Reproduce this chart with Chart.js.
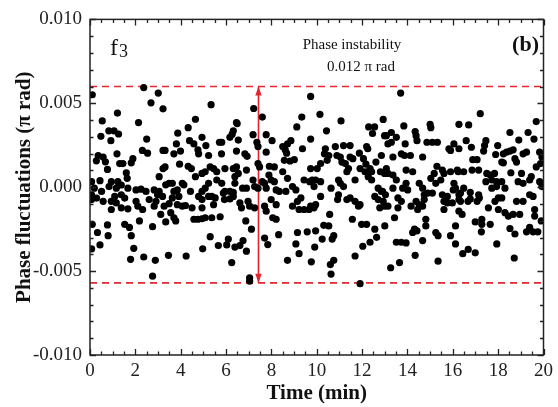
<!DOCTYPE html>
<html>
<head>
<meta charset="utf-8">
<script src="https://cdn.jsdelivr.net/npm/chart.js@4"></script>
<style>
  html, body { margin: 0; padding: 0; background: #fff; }
  #wrap { width: 558px; height: 407px; }
</style>
</head>
<body>
<div id="wrap"><canvas id="phase" width="558" height="407"></canvas></div>
<script>
// time (min) and phase fluctuation (units of 1e-3 pi rad)
var timeMin = [
  // 0 - 3.3 min
  2.37, 0.10, 3.01, 2.69, 3.22, 1.21, 0.54, 2.14, 0.83, 1.06,
  0.48, 1.26, 0.92, 2.50, 2.31, 2.54, 3.22, 0.36, 0.58, 0.28,
  0.68, 1.19, 1.31, 1.45, 1.89, 1.82, 0.77, 3.22, 1.60, 1.64,
  3.05, 0.07, 0.44, 0.94, 1.23, 1.38, 0.19, 0.51, 0.84, 1.16,
  1.67, 2.03, 2.25, 2.47, 2.83, 3.05, 0.07, 0.29, 0.58, 0.07,
  1.09, 1.38, 1.53, 0.94, 1.16, 2.03, 2.11, 2.32, 2.61, 2.91,
  2.98, 0.94, 1.38, 1.67, 2.83, 3.12, 2.18, 0.10, 0.77, 1.53,
  1.74, 2.76, 0.33, 0.80, 1.82, 0.44, 0.07, 1.93, 1.79, 2.37,
  2.88, 2.76, 4.65,
  // 3.3 - 6.5 min
  5.34, 4.33, 3.87, 6.46, 6.27, 6.17, 4.39, 4.58, 3.81, 4.94,
  5.11, 5.71, 5.81, 4.76, 4.79, 3.31, 3.70, 3.99, 5.23, 5.80,
  6.46, 3.31, 3.95, 4.33, 4.47, 4.94, 5.08, 5.30, 5.45, 5.59,
  5.95, 6.32, 4.65, 3.49, 3.63, 4.07, 4.14, 5.23, 5.59, 5.81,
  6.39, 3.34, 4.94, 5.08, 3.70, 3.85, 4.43, 5.95, 5.88, 6.17,
  6.32, 3.20, 3.63, 3.92, 4.79, 4.94, 5.23, 5.37, 5.52, 5.93,
  6.17, 3.49, 3.85, 4.07, 4.21, 4.50, 3.27, 4.94, 5.45, 3.56,
  3.70, 3.78, 3.34, 4.58, 4.76, 4.94, 5.08, 5.37, 5.74, 5.30,
  6.10, 6.03, 5.66, 6.39, 4.97, 3.46, 4.24, 6.25,
  // 6.3 - 9.8 min
  7.22, 7.60, 6.49, 6.32, 7.19, 7.77, 6.54, 7.36, 7.41, 8.03,
  6.83, 6.93, 7.77, 7.41, 7.48, 7.91, 8.13, 6.46, 6.54, 6.39,
  6.90, 7.89, 7.99, 8.13, 7.19, 7.60, 7.70, 6.73, 6.90, 7.26,
  7.41, 7.77, 8.21, 8.35, 6.32, 6.61, 6.68, 6.97, 7.04, 7.26,
  7.70, 7.77, 7.99, 8.21, 8.06, 8.21, 6.87, 7.12, 8.32, 6.75,
  7.70, 7.84, 6.61, 6.90, 7.04, 7.04, 9.73, 9.34, 9.12, 8.86,
  8.71, 8.50, 8.61, 8.67, 8.57, 8.82, 9.01, 9.37, 9.73, 8.50,
  8.71, 9.44, 9.69, 8.93, 9.08, 8.64, 9.30, 9.15, 8.93, 9.22,
  9.44, 9.66, 9.15, 9.08, 9.22, 9.58, 8.71,
  // 9.7 - 13 min
  10.14, 11.07, 10.43, 12.29, 12.55, 12.46, 12.99, 10.82, 11.18, 11.47,
  10.38, 10.34, 10.53, 10.46, 10.89, 11.04, 11.47, 11.59, 11.88, 12.20,
  12.25, 11.11, 11.26, 11.33, 11.40, 10.17, 10.02, 9.73, 12.06, 12.17,
  12.35, 12.42, 11.91, 12.13, 12.61, 12.81, 12.99, 9.80, 9.95, 10.17,
  10.96, 11.04, 11.18, 11.69, 12.27, 12.42, 10.63, 9.88, 12.71, 12.90,
  10.17, 10.96, 10.92, 11.33, 11.47, 11.69, 11.84, 11.91, 12.56, 12.71,
  12.78, 12.99, 9.73, 9.88, 9.95, 10.57, 11.57, 10.31, 10.53, 11.98,
  12.20, 12.56, 9.95, 10.75, 10.68, 10.24, 12.64, 12.35, 12.03, 9.91,
  11.69, 10.75, 10.60, 9.76, 10.63, 11.91,
  // 12.8 - 16.3 min
  13.70, 12.93, 13.84, 15.00, 15.03, 16.27, 13.07, 13.29, 13.51, 14.34,
  14.38, 14.42, 13.14, 13.29, 13.90, 14.86, 15.10, 15.32, 16.05, 15.83,
  15.90, 16.27, 13.73, 13.87, 14.13, 14.67, 12.85, 13.36, 15.30, 15.18,
  15.54, 15.61, 15.90, 16.20, 13.07, 13.14, 13.36, 13.51, 13.94, 14.23,
  13.94, 13.79, 14.01, 15.03, 15.25, 15.47, 14.52, 14.67, 16.05, 16.02,
  13.36, 12.85, 13.03, 14.74, 14.89, 15.10, 15.54, 15.76, 16.27, 13.58,
  13.73, 14.38, 14.52, 14.67, 14.74, 14.16, 14.45, 12.93, 13.14, 13.58,
  15.61, 15.76, 15.98, 16.27, 15.61, 13.43, 14.81, 14.81, 13.00, 14.31,
  14.23, 14.42, 15.25, 15.35, 15.90, 13.51, 13.73, 13.94, 14.67, 16.12,
  14.34, 13.65, 13.26, 15.35,
  // 16.1 - 20 min
  17.21, 16.70, 19.68, 18.52, 19.32, 16.59, 16.82, 17.46, 17.40, 17.36,
  17.98, 17.89, 18.23, 18.37, 18.52, 18.66, 18.91, 19.58, 19.10, 19.25,
  19.83, 19.93, 16.88, 17.07, 18.16, 18.23, 18.74, 18.81, 19.68, 19.87,
  16.24, 16.48, 16.85, 17.14, 17.50, 17.65, 17.84, 18.56, 19.03, 19.39,
  19.46, 17.46, 17.72, 17.93, 18.16, 18.88, 19.10, 19.83, 19.93, 16.12,
  16.48, 17.72, 17.93, 18.30, 16.34, 16.77, 17.14, 17.17, 17.07, 16.34,
  17.86, 18.01, 18.16, 17.57, 18.81, 19.10, 19.39, 19.54, 16.67, 16.77,
  16.27, 16.41, 18.01, 18.30, 18.45, 18.66, 18.95, 19.61, 19.61, 19.90,
  16.12, 16.99, 17.28, 17.28, 17.65, 17.26, 18.52, 18.74, 19.25, 19.39,
  19.54, 19.75, 17.94, 16.44, 16.68, 16.99, 18.71
];

var phaseMilli = [
  // 0 - 3.3 min
  5.94, 5.51, 5.61, 5.03, 4.67, 4.42, 3.95, 3.85, 3.36, 3.36,
  3.03, 3.17, 2.77, 2.87, 2.19, 2.03, 2.19, 1.89, 1.80, 1.57,
  1.51, 1.99, 1.41, 1.41, 1.70, 1.45, 1.06, 1.11, 0.86, 0.53,
  0.63, 0.33, 0.39, 0.33, 0.33, 0.13, -0.06, -0.25, 0.04, -0.06,
  -0.06, -0.16, -0.12, -0.25, -0.16, -0.25, -0.45, -0.65, -0.84, -0.74,
  -0.55, -0.45, -0.65, -0.84, -0.94, -0.84, -1.13, -1.33, -0.74, -0.84,
  -0.45, -1.33, -1.23, -1.29, -1.13, -1.62, -2.01, -2.21, -2.25, -2.21,
  -2.40, -2.35, -2.70, -2.89, -2.89, -3.44, -3.68, -3.64, -4.30, -4.16,
  -4.36, -5.30, 4.05,
  // 3.3 - 6.5 min
  4.92, 3.55, 3.22, 3.85, 3.16, 2.97, 2.77, 2.58, 2.58, 2.97,
  2.48, 2.68, 2.68, 2.23, 1.99, 2.19, 1.99, 2.15, 1.89, 1.99,
  2.15, 1.21, 1.37, 1.25, 1.11, 0.82, 0.92, 1.21, 1.11, 0.92,
  1.11, 1.11, 0.63, 0.23, 0.23, 0.23, 0.14, 0.23, 0.43, 0.23,
  0.23, 0.14, -0.25, -0.06, -0.25, -0.16, -0.25, -0.25, -0.35, -0.25,
  -0.31, -0.55, -0.64, -0.55, -0.55, -0.74, -0.55, -0.55, -0.64, -0.74,
  -0.70, -0.98, -1.04, -1.13, -1.09, -1.23, -1.13, -1.23, -1.04, -1.52,
  -1.82, -2.01, -2.07, -1.91, -1.91, -1.88, -1.82, -1.82, -1.76, -2.95,
  -3.09, -3.44, -3.48, -3.57, -3.67, -4.06, -4.10, -4.49,
  // 6.3 - 9.8 min
  4.69, 4.18, 3.79, 3.36, 3.13, 3.13, 2.81, 2.68, 2.42, 2.77,
  1.99, 1.84, 2.09, 1.41, 1.21, 1.25, 1.21, 1.21, 0.82, 0.63,
  1.02, 0.72, 0.43, 0.33, 0.43, 0.33, 0.23, -0.06, -0.06, 0.04,
  -0.06, -0.06, -0.16, -0.25, -0.55, -0.94, -1.23, -0.84, -1.13, -1.23,
  -1.13, -1.43, -0.74, -1.04, -1.82, -1.91, -2.01, -2.50, -2.83, -3.18,
  -3.03, -3.42, -3.48, -3.81, -5.40, -5.60, 5.41, 4.18, 3.59, 2.77,
  2.58, 2.42, 2.23, 2.03, 1.60, 1.56, 1.64, 2.29, 2.87, 0.92,
  0.53, 0.43, 0.33, 0.04, -0.16, -0.25, -0.64, -0.84, -1.13, -1.33,
  -1.33, -1.33, -2.70, -3.38, -3.96, -2.66, -4.36,
  // 9.7 - 13 min
  4.34, 3.95, 3.36, 3.59, 3.59, 3.20, 3.07, 2.42, 2.48, 2.48,
  2.29, 1.99, 1.89, 1.60, 1.89, 1.80, 1.80, 1.70, 2.03, 2.42,
  2.29, 1.50, 1.41, 0.92, 1.11, 1.41, 1.11, 1.11, 1.70, 1.37,
  1.11, 0.92, 1.11, 0.92, 1.50, 0.92, 0.82, 0.43, 0.43, 0.33,
  0.43, 0.23, 0.04, 0.43, 0.63, 0.43, -0.06, 0.04, -0.06, -0.25,
  -0.55, -0.45, -0.74, -0.74, -0.64, -0.84, -1.13, -1.04, -0.55, -0.74,
  -1.23, -1.13, -1.13, -1.23, -1.04, -1.62, -1.91, -2.27, -2.31, -2.21,
  -2.21, -2.50, -2.60, -2.89, -3.09, -3.09, -2.99, -3.28, -3.52, -3.57,
  -4.10, -4.36, -4.61, -4.45, -5.18, -5.75,
  // 12.8 - 16.3 min
  5.61, 4.04, 3.65, 3.75, 3.55, 3.75, 3.07, 3.26, 2.97, 3.32,
  3.07, 2.77, 2.58, 2.68, 2.58, 2.68, 2.68, 2.68, 2.58, 2.29,
  2.19, 2.29, 1.99, 1.89, 1.89, 1.80, 1.89, 1.80, 1.25, 0.82,
  1.02, 0.82, 0.92, 1.02, 1.11, 0.82, 0.72, 0.43, 1.02, 0.92,
  0.23, -0.06, -0.16, 0.53, 0.23, 0.43, 0.23, -0.06, 0.23, -0.16,
  -0.06, -0.25, -0.45, -0.45, -0.35, -0.35, -0.45, -0.55, -0.45, -0.64,
  -0.84, -0.84, -1.04, -1.13, -0.74, -1.13, -1.33, -0.84, -1.13, -1.23,
  -0.84, -0.94, -0.94, -0.74, -1.33, -1.82, -1.91, -2.31, -2.31, -2.50,
  -2.70, -2.60, -2.70, -2.89, -2.89, -3.28, -3.28, -3.32, -3.18, -3.38,
  -4.06, -4.49, -4.80, -4.41,
  // 16.1 - 20 min
  4.38, 3.71, 3.91, 3.26, 3.26, 2.77, 2.38, 2.77, 2.48, 2.15,
  2.48, 1.95, 1.99, 2.09, 2.15, 2.23, 2.81, 2.87, 1.99, 2.09,
  2.09, 1.80, 1.64, 1.64, 1.50, 1.45, 1.70, 1.50, 1.21, 1.41,
  0.92, 0.92, 1.02, 1.02, 0.82, 0.72, 0.82, 0.86, 0.82, 0.43,
  0.63, 0.33, 0.43, 0.33, 0.33, 0.33, 0.23, 0.33, 0.04, -0.06,
  -0.06, -0.06, 0.04, -0.06, -0.35, -0.31, -0.45, -0.64, -0.84, -0.84,
  -0.84, -0.64, -0.64, -1.23, -0.84, -0.84, -0.45, -0.55, -0.84, -0.70,
  -1.43, -1.62, -1.33, -1.52, -1.72, -1.62, -1.62, -1.33, -1.72, -2.01,
  -2.31, -2.07, -1.91, -2.21, -2.21, -2.66, -2.46, -2.79, -2.66, -2.40,
  -2.66, -2.66, -3.38, -3.96, -3.71, -3.91, -4.22
];

var xTicks = [0, 2, 4, 6, 8, 10, 12, 14, 16, 18, 20];
var yTicks = [-0.010, -0.005, 0.000, 0.005, 0.010];
var bandUpper = 0.006;    // upper dashed line
var bandLower = -0.0057;  // lower dashed line
var arrowTime = 7.43;     // where the double arrow sits

var RED = '#e3262f';
var SERIF = '"Liberation Serif", "Times New Roman", serif';

Chart.defaults.font.family = SERIF;
Chart.defaults.color = '#111';

var points = timeMin.map(function (t, i) {
    return { x: t, y: phaseMilli[i] / 1000 };
});

// box, inward ticks on all four sides, arrowheads and annotations
var decorations = {
    id: 'decorations',
    afterDatasetsDraw: function (chart) {
        var c = chart.ctx, a = chart.chartArea;
        var sx = chart.scales.x, sy = chart.scales.y;
        c.save();
        c.strokeStyle = '#222';
        c.lineWidth = 1.3;
        c.beginPath();
        for (var t = 0; t <= 20.001; t += 0.5) {
            var px = Math.round(sx.getPixelForValue(t)) + 0.5;
            var len = (Math.abs(t / 2 - Math.round(t / 2)) < 1e-6) ? 6 : 3.5;
            c.moveTo(px, a.bottom); c.lineTo(px, a.bottom - len);
            c.moveTo(px, a.top); c.lineTo(px, a.top + len);
        }
        for (var k = -10; k <= 10; k++) {
            var py = Math.round(sy.getPixelForValue(k / 1000)) + 0.5;
            var l2 = (k % 5 === 0) ? 6 : 3.5;
            c.moveTo(a.left, py); c.lineTo(a.left + l2, py);
            c.moveTo(a.right, py); c.lineTo(a.right - l2, py);
        }
        c.stroke();
        c.lineWidth = 1.5;
        c.strokeRect(a.left, a.top, a.right - a.left, a.bottom - a.top);

        // arrowheads on the instability arrow
        var meta = chart.getDatasetMeta(3);
        var p0 = meta.data[0], p1 = meta.data[1];
        c.fillStyle = RED;
        c.beginPath();
        c.moveTo(p0.x, p0.y); c.lineTo(p0.x - 3.2, p0.y + 9); c.lineTo(p0.x + 3.2, p0.y + 9);
        c.closePath(); c.fill();
        c.beginPath();
        c.moveTo(p1.x, p1.y); c.lineTo(p1.x - 3.2, p1.y - 9); c.lineTo(p1.x + 3.2, p1.y - 9);
        c.closePath(); c.fill();

        // text labels
        c.fillStyle = '#111';
        c.textBaseline = 'alphabetic';
        c.textAlign = 'left';
        c.font = '24px ' + SERIF;
        c.fillText('f', 110, 55);
        c.font = '18px ' + SERIF;
        c.fillText('3', 119, 57);
        c.textAlign = 'center';
        c.font = '15px ' + SERIF;
        c.fillText('Phase instability', 352, 49);
        c.fillText('0.012 \u03c0 rad', 361, 71);
        c.textAlign = 'right';
        c.font = 'bold 22px ' + SERIF;
        c.fillText('(b)', 539, 51);
        c.restore();
    }
};

var ctx = document.getElementById('phase');
var myChart = new Chart(ctx, {
    type: 'scatter',
    data: {
        datasets: [
            {
                label: 'phase',
                data: points,
                backgroundColor: '#000',
                borderWidth: 0,
                pointRadius: 3.6,
                pointHoverRadius: 3.6
            },
            {
                label: 'upper',
                data: [{ x: 0, y: bandUpper }, { x: 20, y: bandUpper }],
                showLine: true,
                borderColor: RED,
                borderWidth: 1.6,
                borderDash: [7, 5],
                pointRadius: 0
            },
            {
                label: 'lower',
                data: [{ x: 0, y: bandLower }, { x: 20, y: bandLower }],
                showLine: true,
                borderColor: RED,
                borderWidth: 1.6,
                borderDash: [7, 5],
                pointRadius: 0
            },
            {
                label: 'arrow',
                data: [{ x: arrowTime, y: bandUpper }, { x: arrowTime, y: bandLower }],
                showLine: true,
                borderColor: RED,
                borderWidth: 1.6,
                pointRadius: 0
            }
        ]
    },
    options: {
        responsive: false,
        animation: false,
        layout: {
            padding: { top: 14, right: 9, left: 0, bottom: 0 }
        },
        plugins: {
            legend: { display: false },
            tooltip: { enabled: false }
        },
        scales: {
            x: {
                type: 'linear',
                min: 0,
                max: 20,
                afterBuildTicks: function (scale) {
                    scale.ticks = xTicks.map(function (v) { return { value: v }; });
                },
                afterFit: function (scale) { scale.height = 52; },
                grid: { display: false, drawTicks: false },
                border: { display: false },
                ticks: {
                    padding: 5,
                    maxRotation: 0,
                    font: { size: 19 },
                    color: '#222'
                },
                title: {
                    display: true,
                    text: 'Time (min)',
                    font: { size: 21, weight: 'bold' },
                    color: '#111',
                    padding: { top: 0, bottom: 1 }
                }
            },
            y: {
                type: 'linear',
                min: -0.010,
                max: 0.010,
                afterBuildTicks: function (scale) {
                    scale.ticks = yTicks.map(function (v) { return { value: v }; });
                },
                afterFit: function (scale) { scale.width = 90; },
                grid: { display: false, drawTicks: false },
                border: { display: false },
                ticks: {
                    padding: 8,
                    font: { size: 19 },
                    color: '#222',
                    callback: function (v) { return Number(v).toFixed(3); }
                },
                title: {
                    display: true,
                    text: 'Phase fluctuations (\u03c0 rad)',
                    font: { size: 21, weight: 'bold' },
                    color: '#111',
                    padding: { top: 12, bottom: 0 }
                }
            }
        }
    },
    plugins: [decorations]
});
</script>
</body>
</html>
